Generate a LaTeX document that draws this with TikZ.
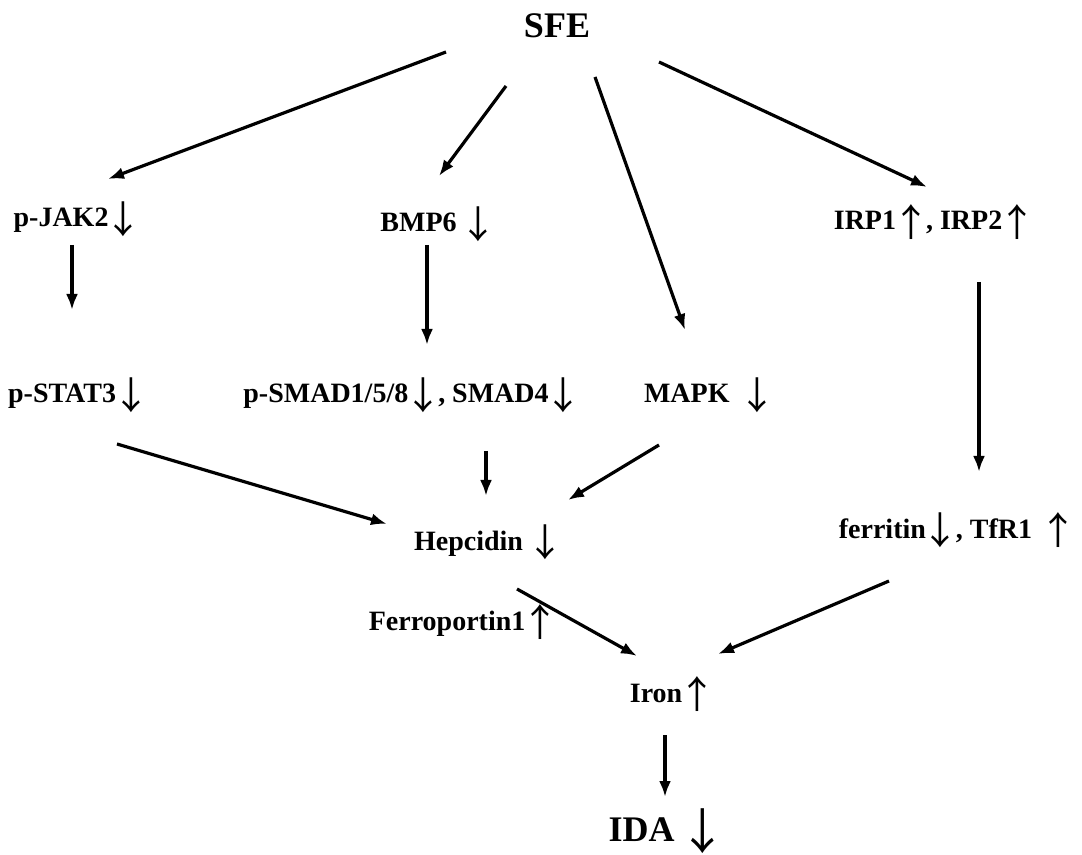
\documentclass[tikz,border=0pt]{standalone}
\usepackage{fontspec}
\setmainfont{Liberation Serif}
\newfontfamily\arrowfont[Scale=1.35]{Noto Sans CJK SC}
\usetikzlibrary{arrows.meta}
\newcommand{\dn}{\hspace{-0.14em}\raisebox{-0.24em}{\arrowfont\mdseries ↓}\hspace{-0.14em}}
\newcommand{\up}{\hspace{-0.14em}\raisebox{-0.24em}{\arrowfont\mdseries ↑}\hspace{-0.14em}}

\begin{document}
\begin{tikzpicture}[x=0.75pt,y=-0.75pt]
	% styles for the labels and the arrows
	\tikzset{
		lbl/.style={font=\fontsize{21}{25}\selectfont\bfseries, anchor=base, inner sep=0pt},
		toplbl/.style={font=\fontsize{27}{32}\selectfont\bfseries, anchor=base, inner sep=0pt},
		arr/.style={line width=2.4pt, -{Latex[length=12pt,width=9pt]}}
	}
	\useasboundingbox (0,0) rectangle (1082,855);
	
	% top
	\node[toplbl] (sfe) at (557,38) {SFE};
	
	% first row
	\node[lbl] (jak) at (78,227) {p-JAK2\dn};
	\node[lbl] (bmp) at (439,232) {BMP6 \dn};
	\node[lbl] (irp) at (935,230) {IRP1\up, IRP2\up};
	
	% second row
	\node[lbl] (stat) at (79,403) {p-STAT3\dn};
	\node[lbl] (smad) at (413,403) {p-SMAD1/5/8\dn, SMAD4\dn};
	\node[lbl] (mapk) at (710,403) {MAPK\hspace{0.45em}\dn};
	
	% hepcidin and ferritin
	\node[lbl] (hep) at (489,550) {Hepcidin \dn};
	\node[lbl] (fer) at (958,538) {ferritin\dn, TfR1\hspace{0.4em}\up};
	\node[lbl] (fpn) at (464,630) {Ferroportin1\up};
	
	% bottom
	\node[lbl] (iron) at (673,702) {Iron\up};
	\node[toplbl] (ida) at (668,841) {IDA \dn};
	
	% arrows from SFE
	\draw[arr] ([shift={(-111,14)}]sfe.base) -- ([shift={(30,-48)}]jak.base);
	\draw[arr] ([shift={(-51,48)}]sfe.base) -- ([shift={(0,-56)}]bmp.base);
	\draw[arr] ([shift={(38,39)}]sfe.base) -- ([shift={(-25,-73)}]mapk.base);
	\draw[arr] ([shift={(102,24)}]sfe.base) -- ([shift={(-8,-43)}]irp.base);
	
	% vertical arrows
	\draw[arr] ([shift={(-6,18)}]jak.base) -- ([shift={(-7,-93)}]stat.base);
	\draw[arr] ([shift={(-12,13)}]bmp.base) -- ([shift={(14,-58)}]smad.base);
	\draw[arr] ([shift={(44,52)}]irp.base) -- ([shift={(21,-66)}]fer.base);
	
	% into hepcidin
	\draw[arr] ([shift={(38,41)}]stat.base) -- ([shift={(-102,-26)}]hep.base);
	\draw[arr] ([shift={(73,48)}]smad.base) -- ([shift={(-3,-54)}]hep.base);
	\draw[arr] ([shift={(-51,42)}]mapk.base) -- ([shift={(79,-50)}]hep.base);
	
	% into iron and IDA
	\draw[arr] ([shift={(28,39)}]hep.base) -- ([shift={(-36,-46)}]iron.base);
	\draw[arr] ([shift={(-69,43)}]fer.base) -- ([shift={(45,-48)}]iron.base);
	\draw[arr] ([shift={(-8,33)}]iron.base) -- ([shift={(-3,-44)}]ida.base);
\end{tikzpicture}
\end{document}
